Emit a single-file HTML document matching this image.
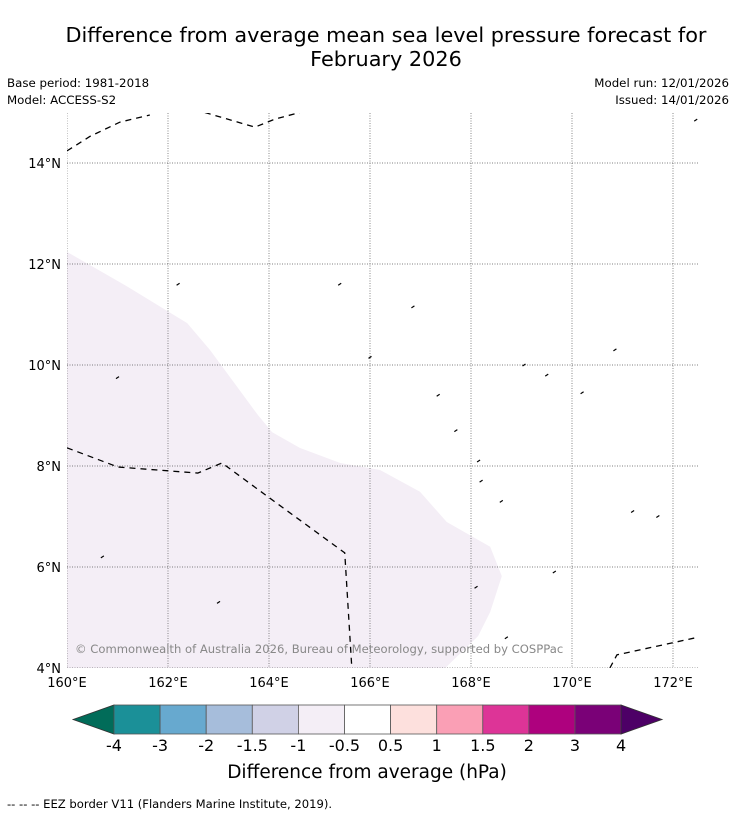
<!DOCTYPE html>
<html><head><meta charset="utf-8"><style>
body{margin:0;background:#fff;font-family:"DejaVu Sans","Liberation Sans",sans-serif;}
#wrap{position:relative;width:736px;height:816px;overflow:hidden;}
.t{position:absolute;white-space:nowrap;}
</style></head><body>
<div id="wrap">
<div class="t" style="left:0;width:772px;text-align:center;top:23px;font-size:20.8px;line-height:24px;">Difference from average mean sea level pressure forecast for<br>February 2026</div>
<div class="t" style="left:7px;top:76px;font-size:11.8px;">Base period: 1981-2018</div>
<div class="t" style="left:7px;top:93px;font-size:11.8px;">Model: ACCESS-S2</div>
<div class="t" style="right:7px;top:76px;font-size:11.8px;">Model run: 12/01/2026</div>
<div class="t" style="right:7px;top:93px;font-size:11.8px;">Issued: 14/01/2026</div>
<svg id="map" width="736" height="816" style="position:absolute;left:0;top:0"></svg>
<div class="t" style="left:7px;top:797px;font-size:11.6px;">--  --  -- EEZ border V11 (Flanders Marine Institute, 2019).</div>
</div>
<script>
const lonTicks=[160,162,164,166,168,170,172];
const latTicks=[4,6,8,10,12,14];
const shadeLon=[160,161.15,162.38,162.83,163.78,164.06,164.61,165.41,166.2,166.99,167.52,168.38,168.61,168.38,168.14,167.49,160];
const shadeLat=[12.24,11.58,10.83,10.30,9.01,8.67,8.36,8.06,7.92,7.49,6.89,6.40,5.82,5.11,4.63,4,4];
const eez1Lon=[160,161.01,162.59,163.07,163.98,165.5,165.64];
const eez1Lat=[8.36,7.98,7.86,8.06,7.39,6.28,4];
const eez2Lon=[160,160.46,161.05,161.64];
const eez2Lat=[14.24,14.53,14.81,14.95];
const eez3Lon=[162.73,163.72,164.12,164.61];
const eez3Lat=[15,14.71,14.87,15];
const eez4Lon=[170.75,170.89,172.5];
const eez4Lat=[4,4.26,4.61];
const islLon=[162.2,161,166,166.85,167.35,167.7,168.15,168.2,168.6,169.05,169.5,169.65,170.2,170.85,171.2,171.7,165.4,172.45,163,160.7,168.1,168.7];
const islLat=[11.6,9.75,10.15,11.15,9.4,8.7,8.1,7.7,7.3,10,9.8,5.9,9.45,10.3,7.1,7,11.6,14.85,5.3,6.2,5.6,4.6];
const cbLabels=["-4","-3","-2","-1.5","-1","-0.5","0.5","1","1.5","2","3","4"];
const cbColors=["#1b9098","#67a9cf","#a6bddb","#d0d1e6","#f4eef6","#ffffff","#fde0dd","#fa9fb5","#dd3497","#ae017e","#7a0177"];
const X=lon=>67+(lon-160)*50.5, Y=lat=>668-(lat-4)*50.5;
const svg=document.getElementById('map');const NS='http://www.w3.org/2000/svg';
function mk(tag,attrs,parent){const e=document.createElementNS(NS,tag);for(const k in attrs)e.setAttribute(k,attrs[k]);(parent||svg).appendChild(e);return e;}
const clip=mk('clipPath',{id:'c'});mk('rect',{x:67,y:113,width:631,height:555},clip);
const g=mk('g',{'clip-path':'url(#c)'});
const sh=mk('polygon',{points:shadeLon.map((l,i)=>X(l)+','+Y(shadeLat[i])).join(' '),fill:'#f4eef6'},g);


lonTicks.forEach(l=>{const ln=mk('line',{x1:X(l),x2:X(l),y1:113,y2:668,stroke:'#555','stroke-width':0.7,'stroke-dasharray':'1,1.5'},g);


const t=mk('text',{x:X(l),y:687,'font-size':13,'text-anchor':'middle'});t.textContent=l+'°E';

});
latTicks.forEach(l=>{const ln=mk('line',{x1:67,x2:698,y1:Y(l),y2:Y(l),stroke:'#555','stroke-width':0.7,'stroke-dasharray':'1,1.5'},g);


const t=mk('text',{x:61,y:Y(l)+5,'font-size':13,'text-anchor':'end'});t.textContent=l+'°N';

});
[[eez1Lon,eez1Lat],[eez2Lon,eez2Lat],[eez3Lon,eez3Lat],[eez4Lon,eez4Lat]].forEach(([a,b])=>{
const p=mk('polyline',{points:a.map((l,i)=>X(l)+','+Y(b[i])).join(' '),fill:'none',stroke:'#000','stroke-width':1.3,'stroke-dasharray':'6,5'},g);

});
islLon.forEach((l,i)=>{const p=mk('line',{x1:X(l)-1.5,y1:Y(islLat[i])+1,x2:X(l)+1.5,y2:Y(islLat[i])-1,stroke:'#000','stroke-width':1.2},g);

});
const cr=mk('text',{x:75,y:653,'font-size':11.6,fill:'#888'});cr.textContent='© Commonwealth of Australia 2026, Bureau of Meteorology, supported by COSPPac';


const cx0=114,cw=46.1,cy=705,ch=29;
const la=mk('polygon',{points:`73,${cy+ch/2} ${cx0},${cy} ${cx0},${cy+ch}`,fill:'#016c59',stroke:'#333','stroke-width':0.8});


cbColors.forEach((c,i)=>{const r=mk('rect',{x:cx0+i*cw,y:cy,width:cw,height:ch,fill:c,stroke:'#555','stroke-width':0.8});

});
const ex=cx0+cbColors.length*cw;
const ra=mk('polygon',{points:`${ex},${cy} ${ex+41},${cy+ch/2} ${ex},${cy+ch}`,fill:'#4d0066',stroke:'#333','stroke-width':0.8});


cbLabels.forEach((s,i)=>{const t=mk('text',{x:cx0+i*cw,y:751,'font-size':16,'text-anchor':'middle'});t.textContent=s;

});
const ct=mk('text',{x:367,y:778,'font-size':18.5,'text-anchor':'middle'});ct.textContent='Difference from average (hPa)';


</script>
</body></html>
